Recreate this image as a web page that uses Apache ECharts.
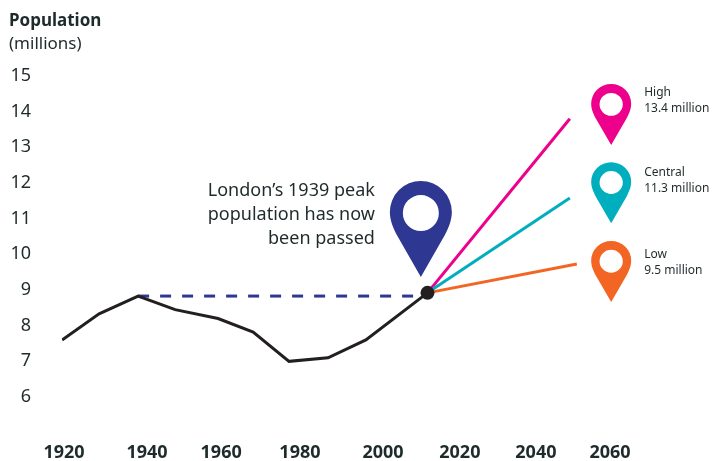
<!DOCTYPE html>
<html lang='en'>

  <head>
    <meta charset='utf-8'>
    <title>London population</title>
    <style>
      html, body { margin: 0; padding: 0; background: #fff; }
    </style>
  </head>

  <body>

    <div id="main" style="width:712px;height:461px;"></div>

    <script src="https://cdn.jsdelivr.net/npm/echarts@6/dist/echarts.min.js"></script>
    <script>
      // population history
      var histYears = [1919.5, 1929, 1939, 1948.5, 1959.5, 1968.5, 1977.7, 1987.7, 1997.4, 2013.2];
      var histValues = [7.6, 8.33, 8.83, 8.45, 8.2, 7.82, 7.0, 7.1, 7.6, 8.92];

      var peakYears = [1939, 2013.2];
      var peakValues = [8.83, 8.83];

      var nowPoint = [2013.2, 8.92];
      var highEnd = [2049.7, 13.8];
      var centralEnd = [2049.7, 11.58];
      var lowEnd = [2051.5, 9.73];

      // the year labels are not evenly spaced in the original
      var tickLabels = ['1920', '1940', '1960', '1980', '2000', '2020', '2040', '2060'];
      var tickYears = [1920, 1941.3, 1960.3, 1980.5, 2001.8, 2021.5, 2041, 2060];

      // pin positions (centre of each pin, in chart units)
      var pinNames = ['High\n13.4 million', 'Central\n11.3 million', 'Low\n9.5 million'];
      var pinYears = [2060.3, 2060.3, 2060.3];
      var pinValues = [13.92, 11.73, 9.52];
      var notePin = [2011.5, 10.71];
      var noteText = 'London\u2019s 1939 peak\npopulation has now\nbeen passed';

      var FONT = '"Noto Sans", sans-serif';
      var INK = '#1f2a2b';
      var PIN = 'path://M31 0A31 31 0 0 1 62 31C62 40 58 48 55 54L31 96L7 54C4 48 0 40 0 31A31 31 0 0 1 31 0Z' +
        'M31 14A18 18 0 0 0 31 50A18 18 0 0 0 31 14Z';

      function zip(xs, ys) {
        return xs.map(function(x, i) {
          return [x, ys[i]];
        });
      }

      function projection(end, color) {
        return {
          type: 'line',
          data: [nowPoint, end],
          symbol: 'none',
          clip: false,
          z: 3,
          lineStyle: { color: color, width: 3 }
        };
      }

      function sidePin(i, color, labelShift) {
        return {
          type: 'scatter',
          data: [[pinYears[i], pinValues[i]]],
          symbol: PIN,
          symbolSize: [40, 61],
          clip: false,
          z: 5,
          itemStyle: { color: color, opacity: 1 },
          label: {
            show: true,
            position: 'right',
            distance: 13,
            offset: [0, labelShift],
            formatter: pinNames[i],
            fontFamily: FONT,
            fontSize: 12,
            lineHeight: 16,
            color: INK
          }
        };
      }

      var myChart = echarts.init(document.getElementById('main'));
      var option = {
        animation: false,
        backgroundColor: '#fff',
        grid: { left: 64, right: 102, top: 76, bottom: 64, outerBoundsMode: 'none' },
        xAxis: {
          type: 'value',
          min: 1920,
          max: 2060,
          axisLine: { show: false },
          axisTick: { show: false },
          splitLine: { show: false },
          axisLabel: {
            margin: 47,
            fontFamily: FONT,
            fontSize: 18,
            fontWeight: 'bold',
            color: INK,
            customValues: tickYears,
            formatter: function(value) {
              return tickLabels[tickYears.indexOf(value)];
            }
          }
        },
        yAxis: {
          type: 'value',
          min: 6,
          max: 15,
          interval: 1,
          axisLine: { show: false },
          axisTick: { show: false },
          splitLine: { show: false },
          axisLabel: {
            margin: 33,
            padding: [3, 0, 0, 0],
            fontFamily: FONT,
            fontSize: 18,
            color: INK
          }
        },
        graphic: [{
          type: 'text',
          left: 9,
          top: 13,
          style: {
            text: 'Population',
            fontFamily: FONT,
            fontSize: 17,
            fontWeight: 'bold',
            fill: INK
          }
        }, {
          type: 'text',
          left: 9,
          top: 36,
          style: {
            text: '(millions)',
            fontFamily: FONT,
            fontSize: 17,
            fill: INK
          }
        }],
        series: [
          {
            type: 'line',
            data: zip(peakYears, peakValues),
            symbol: 'none',
            clip: false,
            z: 2,
            lineStyle: { color: '#2e3792', width: 3, type: [11, 11] }
          },
          projection(highEnd, '#ec008c'),
          projection(centralEnd, '#00aebd'),
          projection(lowEnd, '#f26522'),
          {
            type: 'line',
            data: zip(histYears, histValues),
            symbol: 'none',
            clip: false,
            z: 4,
            lineStyle: { color: '#231f20', width: 3, join: 'miter' }
          },
          {
            type: 'scatter',
            data: [nowPoint],
            symbol: 'circle',
            symbolSize: 14,
            clip: false,
            z: 6,
            itemStyle: { color: '#231f20', opacity: 1 }
          },
          {
            type: 'scatter',
            data: [notePin],
            symbol: PIN,
            symbolSize: [62, 96],
            clip: false,
            z: 5,
            itemStyle: { color: '#2e3792', opacity: 1 },
            label: {
              show: true,
              position: 'left',
              distance: 15,
              offset: [0, -14],
              formatter: noteText,
              align: 'right',
              fontFamily: FONT,
              fontSize: 18,
              lineHeight: 24,
              color: INK
            }
          },
          sidePin(0, '#ec008c', -14),
          sidePin(1, '#00aebd', -12),
          sidePin(2, '#f26522', -9)
        ]
      };
      myChart.setOption(option);
    </script>

  </body>

</html>
